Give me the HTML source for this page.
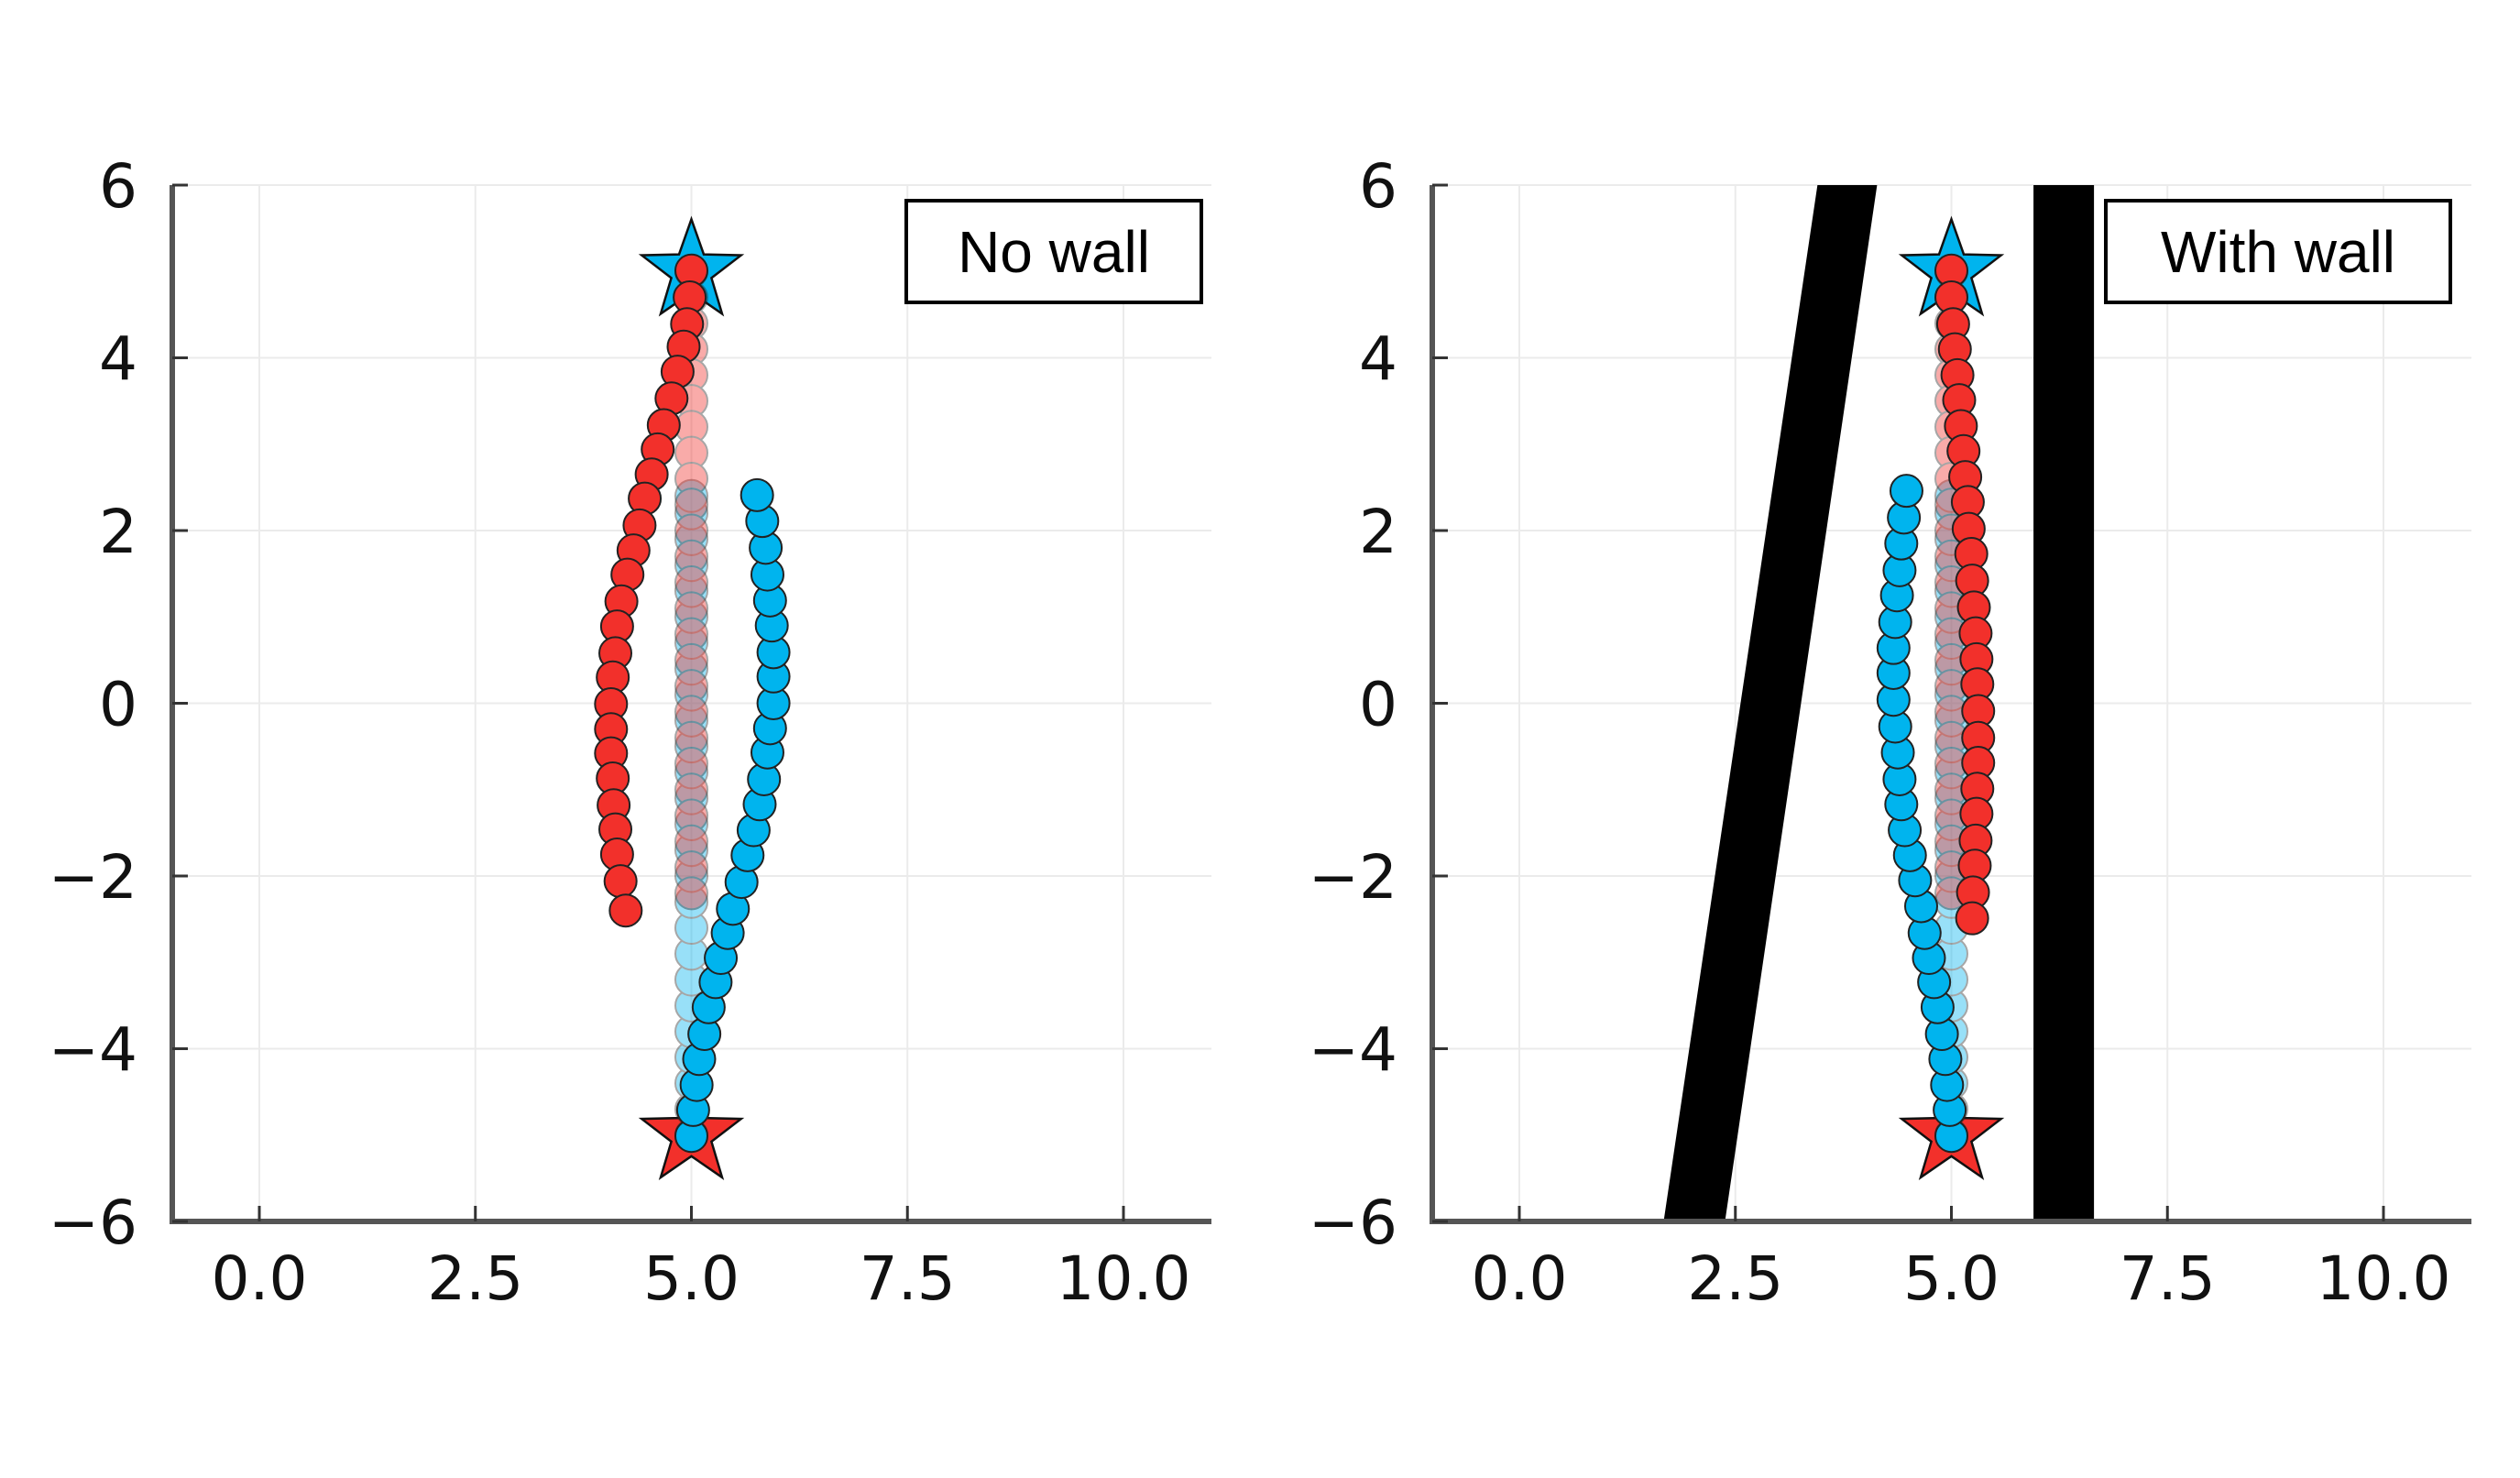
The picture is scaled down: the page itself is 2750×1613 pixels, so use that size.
<!DOCTYPE html>
<html><head><meta charset="utf-8"><style>
html,body{margin:0;padding:0;background:#fff;}
svg{display:block;}
.tick{font-family:"DejaVu Sans","Liberation Sans",sans-serif;font-size:66px;fill:#111;}
.leg{font-family:"Liberation Sans",sans-serif;font-size:64px;fill:#000;}
</style></head><body>
<svg id="fig" width="2750" height="1613" viewBox="0 0 2750 1613" xmlns="http://www.w3.org/2000/svg"></svg>
<script>
// ---- data ----
const xTicks = [0, 2.5, 5, 7.5, 10];
const xTickLabels = ["0.0", "2.5", "5.0", "7.5", "10.0"];
const yTicks = [-6, -4, -2, 0, 2, 4, 6];
const yTickLabels = ["\u22126", "\u22124", "\u22122", "0", "2", "4", "6"];
const panelTitles = ["No wall", "With wall"];

const redNoWallX = [5.00,4.98,4.95,4.91,4.84,4.77,4.68,4.61,4.54,4.46,4.40,4.33,4.26,4.19,4.14,4.12,4.09,4.07,4.07,4.07,4.09,4.10,4.12,4.14,4.18,4.24];
const redNoWallY = [5.01,4.70,4.39,4.13,3.84,3.53,3.22,2.94,2.65,2.37,2.06,1.77,1.49,1.18,0.89,0.58,0.30,-0.01,-0.30,-0.58,-0.87,-1.18,-1.46,-1.75,-2.06,-2.40];
const blueNoWallX = [5.00,5.02,5.06,5.09,5.15,5.20,5.28,5.34,5.42,5.48,5.58,5.65,5.72,5.79,5.84,5.88,5.91,5.95,5.95,5.95,5.93,5.91,5.88,5.86,5.82,5.76];
const blueNoWallY = [-5.01,-4.71,-4.42,-4.12,-3.83,-3.52,-3.23,-2.95,-2.66,-2.38,-2.07,-1.76,-1.47,-1.17,-0.88,-0.57,-0.29,0.00,0.31,0.59,0.90,1.19,1.49,1.80,2.11,2.41];

const redWallX = [5.00,5.00,5.02,5.04,5.07,5.09,5.11,5.14,5.16,5.19,5.20,5.23,5.24,5.26,5.28,5.29,5.30,5.31,5.31,5.31,5.30,5.29,5.28,5.27,5.25,5.24];
const redWallY = [5.01,4.70,4.39,4.10,3.80,3.51,3.21,2.92,2.62,2.33,2.02,1.73,1.42,1.11,0.81,0.51,0.22,-0.09,-0.40,-0.69,-0.99,-1.28,-1.59,-1.88,-2.19,-2.49];
const blueWallX = [5.00,4.98,4.95,4.93,4.89,4.84,4.80,4.74,4.69,4.65,4.58,4.52,4.46,4.42,4.40,4.38,4.35,4.33,4.33,4.33,4.35,4.37,4.40,4.42,4.45,4.48];
const blueWallY = [-5.01,-4.71,-4.42,-4.12,-3.83,-3.52,-3.23,-2.95,-2.66,-2.35,-2.05,-1.76,-1.47,-1.17,-0.88,-0.57,-0.27,0.04,0.35,0.64,0.94,1.25,1.54,1.85,2.15,2.46];

const redRefY = [5.0,4.7,4.4,4.1,3.8,3.5,3.2,2.9,2.6,2.3,2.0,1.7,1.4,1.1,0.8,0.5,0.2,-0.1,-0.4,-0.7,-1.0,-1.3,-1.6,-1.9,-2.2];
const blueRefY = [-5.0,-4.7,-4.4,-4.1,-3.8,-3.5,-3.2,-2.9,-2.6,-2.3,-2.0,-1.7,-1.4,-1.1,-0.8,-0.5,-0.2,0.1,0.4,0.7,1.0,1.3,1.6,1.9,2.2,2.4];
const refX = 5.0;

const redGoal = [5, -5];
const blueGoal = [5, 5];

const slantWallBottomX = [1.67, 2.38];
const slantWallTopX = [3.45, 4.14];
const vertWallX = [5.95, 6.65];
const wallY = [-6, 6];

// ---- layout ----
const NS = "http://www.w3.org/2000/svg";
const svg = document.getElementById("fig");
function mk(tag, attrs, parent){const e=document.createElementNS(NS,tag);for(const k in attrs)e.setAttribute(k,attrs[k]);(parent||svg).appendChild(e);return e;}

const X0PX = 283, X10PX = 1226, YTOP = 202, YBOT = 1333, AXL = 188, AXR = 1322;
function makeScales(off){
  return {
    sx: v => off + X0PX + (X10PX - X0PX) * v / 10,
    sy: v => YBOT - (YBOT - YTOP) * (v + 6) / 12
  };
}
const RED = "#f2302b", BLUE = "#00b4ee";

function star(g, cx, cy, color, name){
  const R = 57, r = 23; let pts = [];
  for (let i = 0; i < 10; i++){
    const a = -Math.PI/2 + i*Math.PI/5, rr = i%2 ? r : R;
    pts.push((cx + rr*Math.cos(a)).toFixed(1) + "," + (cy + rr*Math.sin(a)).toFixed(1));
  }
  const p = mk("polygon", {points: pts.join(" "), fill: color, stroke: "#111", "stroke-width": 2.5}, g);
  
  
}
function dots(g, xs, ys, color, opacity, S, name){
  const grp = mk("g", {opacity: opacity}, g);
  
  
  for (let i = 0; i < ys.length; i++){
    const xv = Array.isArray(xs) ? xs[i] : xs;
    const c = mk("circle", {cx: S.sx(xv), cy: S.sy(ys[i]), r: 17.5, fill: color, stroke: "#222", "stroke-width": 2}, grp);
    
    
  }
}

function panel(idx){
  const off = idx * 1375;
  const S = makeScales(off);
  const g = mk("g", {});
  
  
  xTicks.forEach(t => { const l = mk("line", {x1: S.sx(t), x2: S.sx(t), y1: YTOP, y2: YBOT, stroke: "#ebebeb", "stroke-width": 2}, g);
      });
  yTicks.forEach(t => { const l = mk("line", {x1: off + AXL, x2: off + AXR, y1: S.sy(t), y2: S.sy(t), stroke: "#ebebeb", "stroke-width": 2}, g);
      });
  if (idx === 1){
    const w1 = mk("polygon", {points: [
      S.sx(slantWallBottomX[0]) + "," + S.sy(wallY[0]),
      S.sx(slantWallBottomX[1]) + "," + S.sy(wallY[0]),
      S.sx(slantWallTopX[1]) + "," + S.sy(wallY[1]),
      S.sx(slantWallTopX[0]) + "," + S.sy(wallY[1])].join(" "), fill: "#000"}, g);
    
    
    const w2 = mk("rect", {x: S.sx(vertWallX[0]), y: S.sy(wallY[1]), width: S.sx(vertWallX[1]) - S.sx(vertWallX[0]), height: S.sy(wallY[0]) - S.sy(wallY[1]), fill: "#000"}, g);
    
    
  }
  const ax = mk("path", {d: `M${off+AXL},${YTOP} V${YBOT} H${off+AXR}`, fill: "none", stroke: "#555", "stroke-width": 6}, g);
   
  xTicks.forEach((t, i) => {
    const tk = mk("line", {x1: S.sx(t), x2: S.sx(t), y1: YBOT, y2: YBOT - 17, stroke: "#333", "stroke-width": 3}, g);
     
    const tx = mk("text", {x: S.sx(t), y: 1418, "text-anchor": "middle", class: "tick"}, g);
    tx.textContent = xTickLabels[i];
     
  });
  yTicks.forEach((t, i) => {
    const tk = mk("line", {x1: off + AXL, x2: off + AXL + 17, y1: S.sy(t), y2: S.sy(t), stroke: "#333", "stroke-width": 3}, g);
     
    const tx = mk("text", {x: off + 150, y: S.sy(t) + 24, "text-anchor": "end", class: "tick"}, g);
    tx.textContent = yTickLabels[i];
     
  });
  star(g, S.sx(blueGoal[0]), S.sy(blueGoal[1]), BLUE, 'blue-goal-star');
  star(g, S.sx(redGoal[0]), S.sy(redGoal[1]), RED, 'red-goal-star');
  dots(g, refX, blueRefY, BLUE, 0.4, S, 'blue-reference-path');
  dots(g, refX, redRefY, RED, 0.4, S, 'red-reference-path');
  if (idx === 0){
    dots(g, redNoWallX, redNoWallY, RED, 1, S, 'red-trajectory');
    dots(g, blueNoWallX, blueNoWallY, BLUE, 1, S, 'blue-trajectory');
  } else {
    dots(g, redWallX, redWallY, RED, 1, S, 'red-trajectory');
    dots(g, blueWallX, blueWallY, BLUE, 1, S, 'blue-trajectory');
  }
  const lx = idx ? 2298 : 989, lw = idx ? 376 : 322;
  const lb = mk("rect", {x: lx, y: 219, width: lw, height: 111, fill: "#fff", stroke: "#000", "stroke-width": 4}, g);
   
  const lt = mk("text", {x: lx + lw/2, y: 297, "text-anchor": "middle", class: "leg"}, g);
  lt.textContent = panelTitles[idx];
   
}
panel(0);
panel(1);
</script>
</body></html>
